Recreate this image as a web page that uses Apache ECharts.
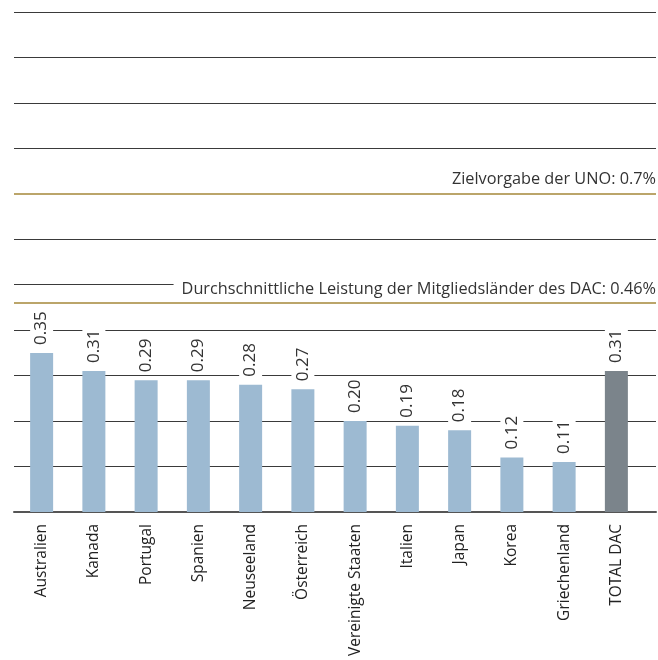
<!DOCTYPE html>
<html>
<head>
<meta charset="utf-8">
<script src="https://cdn.jsdelivr.net/npm/echarts@6/dist/echarts.min.js"></script>
<style>html,body{margin:0;padding:0;background:#fff}#c{width:658px;height:660px}</style>
</head>
<body>
<div id="c"></div>
<script>
const categories = ['Australien','Kanada','Portugal','Spanien','Neuseeland','Österreich','Vereinigte Staaten','Italien','Japan','Korea','Griechenland','TOTAL DAC'];
const values = [0.35,0.31,0.29,0.29,0.28,0.27,0.20,0.19,0.18,0.12,0.11,0.31];
const refValues = [0.7, 0.46];
const refLabels = ['Zielvorgabe der UNO: 0.7%', 'Durchschnittliche Leistung der Mitgliedsländer des DAC: 0.46%'];
const yMin = 0, yMax = 1.1, yStep = 0.1;

const FONT = 'Open Sans';
const chart = echarts.init(document.getElementById('c'), null, {renderer:'canvas'});
const barColor = '#9DBAD2', totalColor = '#7B848B', gold = '#BBA56A';

chart.setOption({
  animation: false,
  textStyle: {fontFamily: FONT},
  grid: [
    {left: 14, right: 2, top: 12, bottom: 148},
    {left: 15.5, width: 627, top: 12, bottom: 148}
  ],
  xAxis: [
    {gridIndex: 0, type: 'value', min: 0, max: 1, show: true,
     axisLine: {show: true, onZero: false, lineStyle: {color: '#555', width: 2}},
     axisTick: {show: false}, axisLabel: {show: false}, splitLine: {show: false}},
    {gridIndex: 1, type: 'category', data: categories,
     axisLine: {show: false}, axisTick: {show: false},
     axisLabel: {rotate: 90, interval: 0, margin: 12, fontSize: 15.5, color: '#222', fontFamily: FONT}}
  ],
  yAxis: [
    {gridIndex: 0, type: 'value', min: yMin, max: yMax, interval: yStep,
     axisLine: {show: false}, axisTick: {show: false}, axisLabel: {show: false},
     splitLine: {show: true, lineStyle: {color: '#3a3a3a', width: 1}}},
    {gridIndex: 1, type: 'value', min: yMin, max: yMax, interval: yStep, show: false,
     splitLine: {show: false}}
  ],
  series: [
    {
      type: 'line', xAxisIndex: 0, yAxisIndex: 0, data: [], silent: true,
      markLine: {
        silent: true, symbol: 'none',
        lineStyle: {color: gold, width: 2, type: 'solid'},
        data: refValues.map((v, i) => ({
          yAxis: v,
          label: {
            show: true, position: 'insideEndTop', formatter: refLabels[i],
            fontSize: 16.3, color: '#333', fontFamily: FONT,
            backgroundColor: '#fff', padding: [2, 0, 2, 8], distance: [0, 4]
          }
        }))
      },
      z: 3
    },
    {
      type: 'bar', xAxisIndex: 1, yAxisIndex: 1, barWidth: 23,
      data: values.map((v, i) => ({value: v, itemStyle: {color: i === values.length - 1 ? totalColor : barColor}})),
      label: {
        show: true, position: 'top', rotate: 90, align: 'left', verticalAlign: 'middle',
        distance: 6, fontSize: 17, color: '#333', fontFamily: FONT,
        formatter: p => p.value.toFixed(2),
        backgroundColor: '#fff', padding: [3, 2, 3, 2]
      },
      z: 4
    }
  ]
});
</script>
</body>
</html>
